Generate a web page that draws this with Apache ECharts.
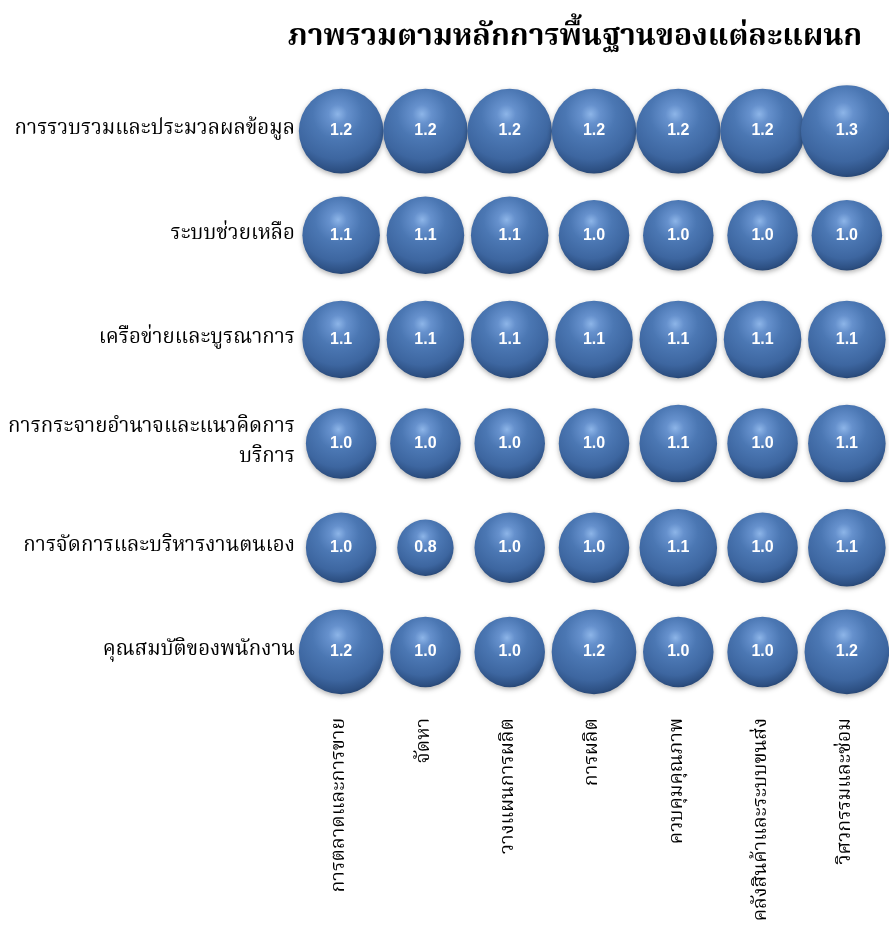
<!DOCTYPE html>
<html>
<head>
<meta charset="utf-8">
<script src="https://cdn.jsdelivr.net/npm/echarts@6/dist/echarts.min.js"></script>
<style>
html,body{margin:0;padding:0;background:#fff;}
#chart{width:889px;height:937px;}
</style>
</head>
<body>
<div id="chart"></div>
<script>
const titleText = 'ภาพรวมตามหลักการพื้นฐานของแต่ละแผนก';
const departments = ['การตลาดและการขาย','จัดหา','วางแผนการผลิต','การผลิต','ควบคุมคุณภาพ','คลังสินค้าและระบบขนส่ง','วิศวกรรมและซ่อม'];
const principles = ['การรวบรวมและประมวลผลข้อมูล','ระบบช่วยเหลือ','เครือข่ายและบูรณาการ','การกระจายอำนาจและแนวคิดการบริการ','การจัดการและบริหารงานตนเอง','คุณสมบัติของพนักงาน'];
const rowDataProcessing = [1.2,1.2,1.2,1.2,1.2,1.2,1.3];
const rowSupport = [1.1,1.1,1.1,1.0,1.0,1.0,1.0];
const rowNetwork = [1.1,1.1,1.1,1.1,1.1,1.1,1.1];
const rowDecentral = [1.0,1.0,1.0,1.0,1.1,1.0,1.1];
const rowSelfManage = [1.0,0.8,1.0,1.0,1.1,1.0,1.1];
const rowStaff = [1.2,1.0,1.0,1.2,1.0,1.0,1.2];
const rows = [rowDataProcessing,rowSupport,rowNetwork,rowDecentral,rowSelfManage,rowStaff];

const points = [];
rows.forEach((r, yi) => r.forEach((v, xi) => points.push([xi, yi, v])));

const thaiFont = "'Noto Serif Thai','Noto Sans Thai','Tlwg Typo',serif";
const chart = echarts.init(document.getElementById('chart'));
chart.setOption({
  backgroundColor: '#ffffff',
  animation: false,
  title: {
    text: titleText,
    left: 570, top: 20, textAlign: 'center',
    textStyle: {fontFamily: thaiFont, fontSize: 30, fontWeight: 'bold', color: '#000'}
  },
  grid: {left: 299, right: 0, top: 79, bottom: 233, containLabel: false},
  xAxis: {
    type: 'category', data: departments,
    axisLine: {show: false}, axisTick: {show: false}, splitLine: {show: false},
    axisLabel: {rotate: 90, margin: 14, fontFamily: thaiFont, fontSize: 19.5, color: '#000', interval: 0}
  },
  yAxis: {
    type: 'category', data: principles, inverse: true,
    axisLine: {show: false}, axisTick: {show: false}, splitLine: {show: false},
    axisLabel: {
      margin: 4, fontFamily: thaiFont, fontSize: 20.5, color: '#000', interval: 0, lineHeight: 30,
      formatter: v => v.replace(/(บริการ)$/, '\n$1')
    }
  },
  series: [{
    type: 'scatter',
    data: points,
    symbol: 'circle',
    symbolSize: d => d[2] * 70.5,
    itemStyle: {
      opacity: 1,
      color: {
        type: 'radial', x: 0.46, y: 0.3, r: 0.74,
        colorStops: [
          {offset: 0, color: '#8db5e8'},
          {offset: 0.15, color: '#6691cd'},
          {offset: 0.4, color: '#4b77b3'},
          {offset: 0.72, color: '#3d66a0'},
          {offset: 0.9, color: '#2d5083'},
          {offset: 1, color: '#203c66'}
        ]
      },
      shadowColor: 'rgba(0,0,0,0.3)', shadowBlur: 5, shadowOffsetY: 2
    },
    label: {
      show: true, position: 'inside',
      formatter: p => p.data[2].toFixed(1),
      color: '#ffffff', fontFamily: "'Liberation Sans', Arial, sans-serif",
      fontSize: 16, fontWeight: 'bold'
    }
  }]
});
</script>
</body>
</html>
